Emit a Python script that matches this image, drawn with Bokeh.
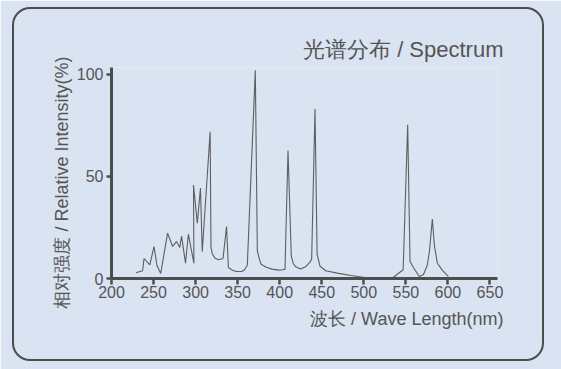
from bokeh.plotting import figure
from bokeh.models import FixedTicker, Title, Range1d, InlineStyleSheet
from bokeh.embed import file_html
from bokeh.resources import INLINE

# Data
wavelength = [229, 237, 238.7, 245.5, 250.6, 254, 258.5, 266.7, 272.7, 277.3,
              281.2, 283.3, 288, 291.4, 298, 297.5, 302, 305.8, 307.9, 317.3,
              318.3, 320, 323, 327, 332.6, 336.8, 339, 344, 348.3, 354.7,
              358, 361.5, 371, 373.4, 375.5, 377.8, 384, 390.8, 399.3, 404,
              406.3, 409.9, 413.8, 416, 419, 424.8, 431.2, 436, 438, 442,
              444.5, 448, 454.8, 470, 485, 501.3, 534.9, 546.8, 552.2, 555,
              559, 566, 571, 575.5, 578, 581.5, 584, 587.5, 593.5, 600.5]
intensity = [2.8, 3.8, 9.8, 6.7, 15.7, 6.5, 2.5, 22.2, 15.7, 18.1,
             15.2, 20.8, 7.5, 21.7, 7.5, 45.8, 27.1, 44.3, 13.1, 71.9,
             15.2, 12, 10, 9.2, 9.8, 25.5, 5.4, 4, 3.4, 3.4,
             4.2, 6.5, 102, 13.6, 10, 7, 5.5, 4.6, 4.1, 4.3,
             4.6, 62.6, 11, 7.5, 5.7, 4.6, 5.9, 8, 9.5, 83,
             12, 6, 3.8, 2.5, 1.5, 0.5, 0.5, 4.3, 75.3, 8.3,
             5.4, 1.0, 2, 6.5, 13, 29.1, 16, 7.5, 4, 1]

x_ticks = [200, 250, 300, 350, 400, 450, 500, 550, 600, 650]
y_ticks = [0, 50, 100]

title_text = "光谱分布 / Spectrum"
x_label_text = "波长 / Wave Length(nm)"
y_label_text = "相对强度 / Relative Intensity(%)"

BG = "#d9e3f1"
DARK = "#4d4d4d"
TEXT = "#555555"
FONT = "Liberation Sans"

p = figure(width=561, height=369, output_backend="svg", toolbar_location=None,
           x_range=Range1d(200, 659), y_range=Range1d(0, 103.4),
           min_border_left=111, min_border_right=64,
           min_border_top=67, min_border_bottom=91)
p.background_fill_color = BG
p.border_fill_color = BG
p.outline_line_color = None
p.xgrid.grid_line_color = None
p.ygrid.grid_line_color = None

p.line(wavelength, intensity, line_color="#5e5e5e", line_width=1.1)

for ax, ticks in ((p.xaxis, x_ticks), (p.yaxis, y_ticks)):
    ax.ticker = FixedTicker(ticks=ticks)
    ax.axis_line_color = DARK
    ax.axis_line_width = 3
    ax.major_tick_line_color = DARK
    ax.major_tick_line_width = 2.5
    ax.major_tick_in = 0
    ax.minor_tick_line_color = None
    ax.major_label_text_font = FONT
    ax.major_label_text_font_size = "16px"
    ax.major_label_text_color = TEXT
p.xaxis.major_tick_out = 6
p.xaxis.major_label_standoff = 1
p.yaxis.major_tick_out = 5
p.yaxis.major_label_standoff = 3

p.title.text = title_text
p.title.align = "right"
p.title.offset = -6
p.title.standoff = 12
p.title.text_font = FONT
p.title.text_font_size = "22px"
p.title.text_font_style = "normal"
p.title.text_color = TEXT

p.add_layout(Title(text=x_label_text, align="right", offset=-6, standoff=12,
                   text_font=FONT, text_font_size="18px",
                   text_font_style="normal", text_color=TEXT), "below")
p.add_layout(Title(text=y_label_text, align="left", offset=-30, standoff=3,
                   text_font=FONT, text_font_size="18px",
                   text_font_style="normal", text_color=TEXT), "left")

# rounded panel border drawn over the figure with CSS
p.stylesheets = [InlineStyleSheet(css="""
:host { position: relative; }
:host::after {
  content: ""; position: absolute; pointer-events: none;
  left: 12px; top: 7px; width: 528px; height: 350px;
  border: 2.5px solid #4d4d4d; border-radius: 18px;
}
""")]

open("out.html", "w").write(file_html(p, INLINE))
